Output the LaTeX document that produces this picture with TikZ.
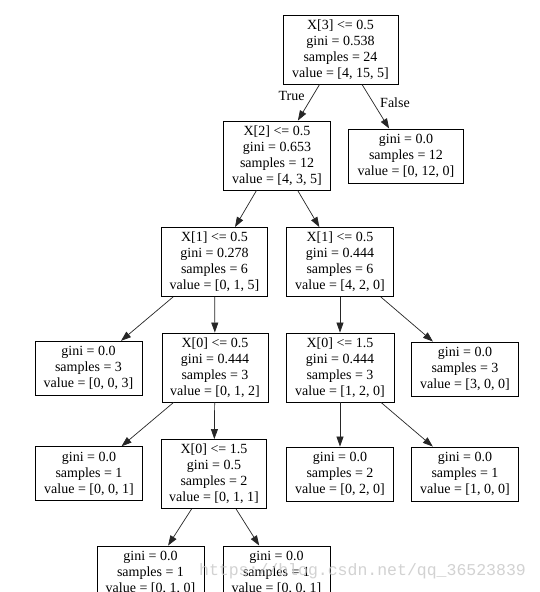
\documentclass[tikz,border=0pt]{standalone}
\usepackage{fontspec}
\setmainfont{Liberation Serif}
\newfontfamily\wmfont{Liberation Mono}
\usetikzlibrary{arrows.meta}
\begin{document}
\begin{tikzpicture}[x=1pt,y=-1pt,
  tnode/.style={draw=black,line width=0.9pt,rectangle,align=center,inner sep=0pt,
    font=\fontsize{14}{16}\selectfont},
  split/.style={tnode,minimum height=69pt},
  leaf/.style={tnode,minimum height=54pt},
  edge/.style={draw=black!85,line width=0.7pt,-{Triangle[length=10pt,width=7pt]}},
  elabel/.style={font=\fontsize{14}{16}\selectfont,inner sep=0pt}]
\useasboundingbox (0,0) rectangle (539,592);
\clip (0,0) rectangle (539,592);
\fill[white] (0,0) rectangle (539,592);
% level 0
\node[split,minimum width=115pt] (root) at (340.5,49.5) {X[3] <= 0.5\\gini = 0.538\\samples = 24\\value = [4, 15, 5]};
% level 1
\node[split,minimum width=107pt] (x2) at (277,155.5) {X[2] <= 0.5\\gini = 0.653\\samples = 12\\value = [4, 3, 5]};
\node[leaf,minimum width=115pt] (l12) at (406,156) {gini = 0.0\\samples = 12\\value = [0, 12, 0]};
% level 2
\node[split,minimum width=106pt] (x1a) at (214.5,262) {X[1] <= 0.5\\gini = 0.278\\samples = 6\\value = [0, 1, 5]};
\node[split,minimum width=107pt] (x1b) at (340,262) {X[1] <= 0.5\\gini = 0.444\\samples = 6\\value = [4, 2, 0]};
% level 3
\node[leaf,minimum width=107pt] (l3a) at (88.5,368.3) {gini = 0.0\\samples = 3\\value = [0, 0, 3]};
\node[split,minimum width=106pt] (x0a) at (215,367.5) {X[0] <= 0.5\\gini = 0.444\\samples = 3\\value = [0, 1, 2]};
\node[split,minimum width=108pt] (x0b) at (340,367.5) {X[0] <= 1.5\\gini = 0.444\\samples = 3\\value = [1, 2, 0]};
\node[leaf,minimum width=107pt] (l3b) at (465,369) {gini = 0.0\\samples = 3\\value = [3, 0, 0]};
% level 4
\node[leaf,minimum width=107pt] (l4a) at (89,473.7) {gini = 0.0\\samples = 1\\value = [0, 0, 1]};
\node[split,minimum width=105pt] (x0c) at (214,474) {X[0] <= 1.5\\gini = 0.5\\samples = 2\\value = [0, 1, 1]};
\node[leaf,minimum width=107pt] (l4b) at (340,474) {gini = 0.0\\samples = 2\\value = [0, 2, 0]};
\node[leaf,minimum width=107pt] (l4c) at (465,474) {gini = 0.0\\samples = 1\\value = [1, 0, 0]};
% level 5
\node[leaf,minimum width=107pt] (l5a) at (150.5,573) {gini = 0.0\\samples = 1\\value = [0, 1, 0]};
\node[leaf,minimum width=107pt] (l5b) at (276.5,573) {gini = 0.0\\samples = 1\\value = [0, 0, 1]};
% edges
\draw[edge] (root) -- (x2);
\draw[edge] (root) -- (l12);
\draw[edge] (x2) -- (x1a);
\draw[edge] (x2) -- (x1b);
\draw[edge] (x1a) -- (l3a);
\draw[edge] (x1a) -- (x0a);
\draw[edge] (x1b) -- (x0b);
\draw[edge] (x1b) -- (l3b);
\draw[edge] (x0a) -- (l4a);
\draw[edge] (x0a) -- (x0c);
\draw[edge] (x0b) -- (l4b);
\draw[edge] (x0b) -- (l4c);
\draw[edge] (x0c) -- (l5a);
\draw[edge] (x0c) -- (l5b);
% edge labels
\node[elabel] (ltrue) at (291.5,96) {True};
\node[elabel] (lfalse) at (395,103) {False};
% watermark
\node[font=\wmfont\fontsize{16.5}{18}\selectfont,text=black!22,text opacity=0.8,inner sep=0pt] (wm) at (362.5,571.5) {https://blog.csdn.net/qq\_36523839};
\end{tikzpicture}
\end{document}
